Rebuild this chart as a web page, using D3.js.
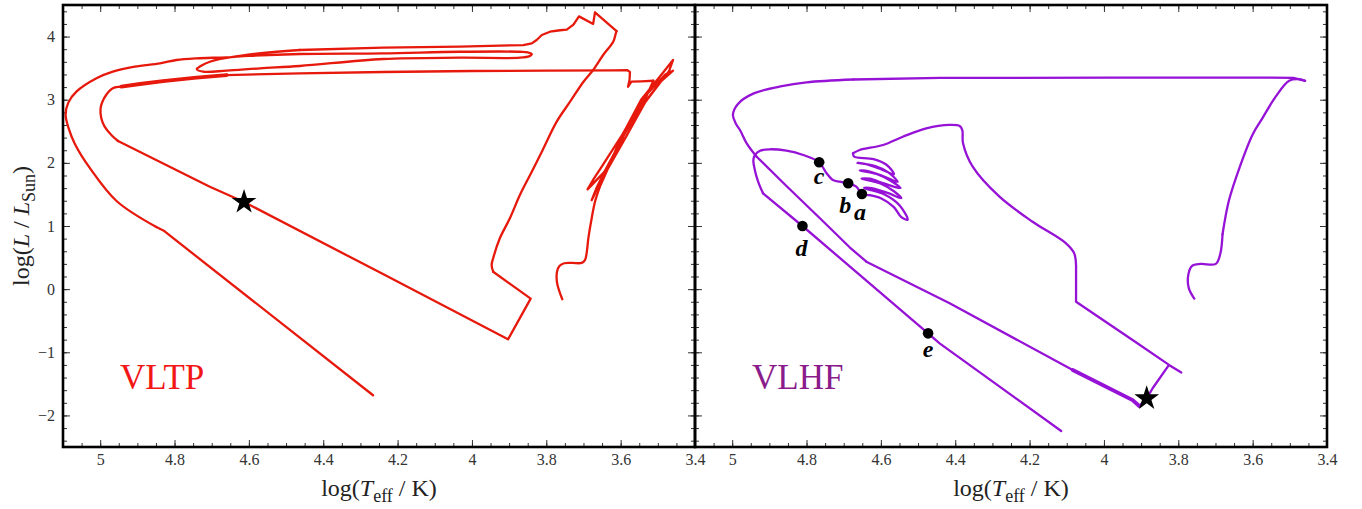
<!DOCTYPE html>
<html><head><meta charset="utf-8">
<script src="https://cdn.jsdelivr.net/npm/d3@7"></script>
<style>body{margin:0;background:#fff}svg{display:block}</style>
</head><body><svg id="c" width="1362" height="509"></svg>
<script>
// ---------- tick values / labels ----------
const xTicks = [5, 4.8, 4.6, 4.4, 4.2, 4, 3.8, 3.6, 3.4];
const xTickLabels = ["5", "4.8", "4.6", "4.4", "4.2", "4", "3.8", "3.6", "3.4"];
const yTicks = [-2, -1, 0, 1, 2, 3, 4];
const yTickLabels = ["\u22122", "\u22121", "0", "1", "2", "3", "4"];

// ---------- VLTP track pieces: [log Teff, log L] ----------
const vltpPreMainSeq = [[3.757,-0.16],[3.771,0.10],[3.771,0.28],[3.764,0.37],[3.752,0.41],[3.73,0.415],[3.705,0.415],[3.696,0.46],[3.691,0.59],[3.687,0.80],[3.678,1.12],[3.669,1.385],[3.656,1.62]];
const vltpGiantBranch = [[3.635,1.9],[3.60,2.39],[3.545,3.0],[3.49,3.4],[3.459,3.63],
  [3.47,3.45],[3.53,3.0],[3.588,2.39],[3.645,1.85],[3.689,1.58],
  [3.672,1.75],[3.65,1.95],[3.595,2.45],[3.54,3.02],[3.48,3.4],[3.459,3.46],
  [3.49,3.3],[3.535,2.95],[3.585,2.42],[3.64,1.85],[3.678,1.41],
  [3.665,1.6],[3.64,1.9],[3.59,2.45],[3.535,3.0],[3.512,3.30]];
const vltpHook = [[3.545,3.29],[3.571,3.285],[3.58,3.206],[3.576,3.32],[3.575,3.44],[3.583,3.47],[3.62,3.465],[3.80,3.46],[4.0,3.455],[4.239,3.439],[4.463,3.418],[4.66,3.391],[4.741,3.349],[4.831,3.296],[4.893,3.249],[4.943,3.206]];
const vltpInnerNose = [[4.966,3.18],[4.984,3.075],[4.994,2.968],[4.999,2.864],[4.997,2.706],[4.988,2.573],[4.97,2.441],[4.952,2.346]];
const vltpCooling = [[4.705,1.622],[4.613,1.38],[4.238,0.235],[3.903,-0.795],[3.842,-0.15],[3.943,0.276]];
const vltpBornAgainRise = [[3.947,0.382],[3.943,0.488],[3.925,0.805],[3.898,1.122],[3.871,1.491],[3.839,1.86],[3.81,2.2],[3.772,2.652],[3.736,2.968],[3.70,3.285],[3.674,3.47],[3.647,3.708],[3.62,3.919],[3.613,4.052],[3.611,4.088]];
const vltpPeaks = [[3.669,4.384],[3.674,4.20],[3.712,4.32],[3.727,4.19],[3.745,4.11],[3.763,4.10],[3.79,4.077],[3.812,4.025],[3.826,3.946],[3.839,3.893],[3.862,3.866],[4.032,3.84],[4.239,3.824],[4.463,3.787]];
const vltpLoops = [[4.62,3.70],[4.705,3.602],[4.74,3.482],[4.723,3.444],[4.66,3.46],[4.57,3.497],[4.463,3.534],[4.239,3.645],[4.032,3.665],[3.871,3.665],[3.845,3.69],[3.839,3.72],[3.85,3.75],[3.871,3.76],[4.032,3.76],[4.239,3.735],[4.463,3.724],[4.60,3.695],[4.66,3.672],[4.741,3.656],[4.795,3.629],[4.839,3.575],[4.907,3.523],[4.966,3.444],[5.01,3.339],[5.064,3.127],[5.086,2.95],[5.093,2.76],[5.085,2.55],[5.068,2.30],[5.028,1.92],[4.956,1.396],[4.849,0.984]];
const vltpFinalDescent = [[4.83,0.93],[4.266,-1.68]];
const vltpStar = [4.613, 1.38];

// ---------- VLHF track pieces ----------
const vlhfPreMainSeq = [[3.757,-0.15],[3.772,0.02],[3.773,0.23],[3.763,0.37],[3.74,0.40],[3.699,0.40],[3.687,0.56],[3.681,0.87]];
const vlhfGiantBranch = [[3.664,1.40],[3.635,1.93],[3.60,2.45],[3.574,2.705],[3.538,3.048],[3.502,3.30],[3.475,3.325],[3.459,3.30]];
const vlhfHorizontal = [[3.49,3.345],[3.565,3.35],[3.973,3.35],[4.44,3.345],[4.674,3.32]];
const vlhfNose = [[4.80,3.275],[4.87,3.21],[4.942,3.10],[4.985,2.93],[4.998,2.76],[4.99,2.62],[4.979,2.52],[4.961,2.31],[4.934,2.097]];
const vlhfDescent = [[4.854,1.634],[4.764,1.122],[4.684,0.663],[4.639,0.434]];
const vlhfCooling = [[4.415,-0.224],[4.084,-1.281],[3.923,-1.756],[3.905,-1.851]];
const vlhfFlash = [[3.885,-1.73],[3.869,-1.57],[3.825,-1.20],[3.792,-1.32],[3.825,-1.20],[3.923,-0.806],[4.075,-0.199],[4.075,0.355]];
const vlhfRise = [[4.08,0.567],[4.102,0.726],[4.192,1.068],[4.281,1.464],[4.353,1.939],[4.379,2.31],[4.381,2.52],[4.388,2.584],[4.415,2.60],[4.478,2.547],[4.541,2.414],[4.594,2.283],[4.657,2.204],[4.675,2.151]];
const vlhfLoops = [[4.672,2.10],[4.62,2.06],[4.585,1.97],[4.565,1.82],[4.60,1.90],[4.64,1.98],[4.663,2.0],[4.615,1.95],[4.58,1.85],[4.555,1.70],[4.595,1.79],[4.635,1.87],[4.657,1.88],[4.61,1.82],[4.575,1.72],[4.547,1.60],[4.59,1.67],[4.63,1.75],[4.652,1.75],[4.60,1.67],[4.565,1.55],[4.545,1.44],[4.58,1.52],[4.625,1.60],[4.645,1.60],[4.59,1.50],[4.55,1.33],[4.528,1.10],[4.545,1.14],[4.565,1.30],[4.60,1.44],[4.63,1.49]];
const vlhfStagesPath = [[4.651,1.507],[4.666,1.623],[4.688,1.676],[4.711,1.701],[4.729,1.728],[4.746,1.834],[4.766,2.009],[4.809,2.124],[4.854,2.192],[4.899,2.215],[4.925,2.192],[4.939,2.124],[4.943,2.045],[4.938,1.86],[4.93,1.70],[4.917,1.518]];
const vlhfFinalDescent = [[4.811,1.0],[4.473,-0.70],[4.442,-0.858],[4.115,-2.247]];
const vlhfStar = [3.885, -1.73];
const vlhfStageNames = ["a", "b", "c", "d", "e"];
const vlhfStageT = [4.651, 4.688, 4.766, 4.811, 4.473];
const vlhfStageL = [1.507, 1.676, 2.009, 1.0, -0.70];

// ---------- drawing ----------
const svg = d3.select("#c");
const serif = "'Liberation Serif','DejaVu Serif',serif";
const yTop = 5, yBot = 447;
const y = d3.scaleLinear().domain([-2.5, 4.5]).range([yBot, yTop]);
const xMinor = d3.range(68, 103).map(i => +(i * 0.05).toFixed(2));
const yMinor = d3.range(-12, 23).map(i => +(i * 0.2).toFixed(1));

// pieces: [points, smooth?]
const panels = [
  { x0: 63, x1: 695, color: "#e6190c", label: "VLTP", labelColor: "#f21616",
    pieces: [[vltpPreMainSeq,1],[vltpGiantBranch,0],[vltpHook,0],[vltpInnerNose,1],[vltpCooling,0],[vltpBornAgainRise,1],[vltpPeaks,0],[vltpLoops,1],[vltpFinalDescent,0]],
    thick: [vltpHook.slice(11, 16)], star: vltpStar, yLabels: true },
  { x0: 695, x1: 1327, color: "#9612d6", label: "VLHF", labelColor: "#8b1c8b",
    pieces: [[vlhfPreMainSeq,1],[vlhfGiantBranch,1],[vlhfHorizontal,0],[vlhfNose,1],[vlhfDescent,0],[vlhfCooling,0],[vlhfFlash,0],[vlhfRise,1],[vlhfLoops,1],[vlhfStagesPath,1],[vlhfFinalDescent,0]],
    thick: [vlhfCooling.slice(1, 4)], star: vlhfStar, yLabels: false }
];

function styleAxis(g) {
  g.select(".domain").remove();
  g.selectAll(".tick line").attr("stroke", "#333").attr("stroke-width", 1);
  g.selectAll(".tick text").attr("font-family", serif).attr("font-size", 16).attr("fill", "#333");
}

panels.forEach((p, pi) => {
  const x = d3.scaleLinear().domain([5.1, 3.4]).range([p.x0, p.x1]);
  const g = svg.append("g");
  // minor ticks
  g.append("g").attr("transform", `translate(0,${yBot})`).call(d3.axisBottom(x).tickValues(xMinor).tickSize(-4).tickFormat("")).call(styleAxis);
  g.append("g").attr("transform", `translate(0,${yTop})`).call(d3.axisTop(x).tickValues(xMinor).tickSize(-4).tickFormat("")).call(styleAxis);
  g.append("g").attr("transform", `translate(${p.x0},0)`).call(d3.axisLeft(y).tickValues(yMinor).tickSize(-4).tickFormat("")).call(styleAxis);
  g.append("g").attr("transform", `translate(${p.x1},0)`).call(d3.axisRight(y).tickValues(yMinor).tickSize(-4).tickFormat("")).call(styleAxis);
  // major ticks
  g.append("g").attr("transform", `translate(0,${yBot})`).call(d3.axisBottom(x).tickValues(xTicks).tickSize(-7).tickPadding(7).tickFormat((d, i) => xTickLabels[i])).call(styleAxis);
  g.append("g").attr("transform", `translate(0,${yTop})`).call(d3.axisTop(x).tickValues(xTicks).tickSize(-7).tickFormat("")).call(styleAxis);
  g.append("g").attr("transform", `translate(${p.x0},0)`).call(d3.axisLeft(y).tickValues(yTicks).tickSize(-7).tickPadding(8).tickFormat((d, i) => p.yLabels ? yTickLabels[i] : "")).call(styleAxis);
  g.append("g").attr("transform", `translate(${p.x1},0)`).call(d3.axisRight(y).tickValues(yTicks).tickSize(-7).tickFormat("")).call(styleAxis);

  const smooth = d3.line().x(d => x(d[0])).y(d => y(d[1])).curve(d3.curveCatmullRom.alpha(0.5));
  const straight = d3.line().x(d => x(d[0])).y(d => y(d[1]));
  let last = null;
  p.pieces.forEach(([pts, sm]) => {
    const seg = last ? [last].concat(pts) : pts;
    last = pts[pts.length - 1];
    g.append("path").attr("d", (sm ? smooth : straight)(seg)).attr("fill", "none").attr("stroke", p.color)
      .attr("stroke-width", 2.3).attr("stroke-linejoin", "round").attr("stroke-linecap", "round");
  });
  p.thick.forEach(s => g.append("path").attr("d", straight(s)).attr("fill", "none").attr("stroke", p.color)
    .attr("stroke-width", 3.8).attr("stroke-linecap", "round"));

  if (pi === 1) {
    const stages = vlhfStageNames.map((n, i) => ({ n, t: vlhfStageT[i], l: vlhfStageL[i] }));
    const off = { a: [-2, 26], b: [-3, 30], c: [0, 22], d: [-1, 30], e: [0, 24] };
    g.selectAll("circle.st").data(stages).join("circle").attr("class", "st")
      .attr("cx", d => x(d.t)).attr("cy", d => y(d.l)).attr("r", 5.3).attr("fill", "#000");
    g.selectAll("text.st").data(stages).join("text").attr("class", "st")
      .attr("x", d => x(d.t) + off[d.n][0]).attr("y", d => y(d.l) + off[d.n][1])
      .attr("text-anchor", "middle").attr("font-family", serif).attr("font-size", 24)
      .attr("font-style", "italic").attr("font-weight", "bold").attr("fill", "#000").text(d => d.n);
  }

  g.append("path").attr("d", d3.symbol(d3.symbolStar, 190)())
    .attr("transform", `translate(${x(p.star[0])},${y(p.star[1])})`).attr("fill", "#000");

  g.append("text").attr("x", p.x0 + 57).attr("y", 389).attr("font-family", serif)
    .attr("font-size", 35).attr("fill", p.labelColor).text(p.label);

  // x axis title
  const t = g.append("text").attr("x", (p.x0 + p.x1) / 2).attr("y", 496).attr("text-anchor", "middle")
    .attr("font-family", serif).attr("font-size", 24).attr("fill", "#222");
  t.append("tspan").text("log(");
  t.append("tspan").attr("font-style", "italic").text("T");
  t.append("tspan").attr("font-size", 18).attr("dy", 6).text("eff");
  t.append("tspan").attr("dy", -6).text(" / K)");

  // frame
  g.append("rect").attr("x", p.x0).attr("y", yTop).attr("width", p.x1 - p.x0).attr("height", yBot - yTop)
    .attr("fill", "none").attr("stroke", "#000").attr("stroke-width", 2.6);
});

// y axis title
const yt = svg.append("text").attr("transform", "translate(29,226) rotate(-90)").attr("text-anchor", "middle")
  .attr("font-family", serif).attr("font-size", 24).attr("fill", "#222");
yt.append("tspan").text("log(");
yt.append("tspan").attr("font-style", "italic").text("L");
yt.append("tspan").text(" / ");
yt.append("tspan").attr("font-style", "italic").text("L");
yt.append("tspan").attr("font-size", 18).attr("dy", 6).text("Sun");
yt.append("tspan").attr("dy", -6).text(")");
</script></body></html>
